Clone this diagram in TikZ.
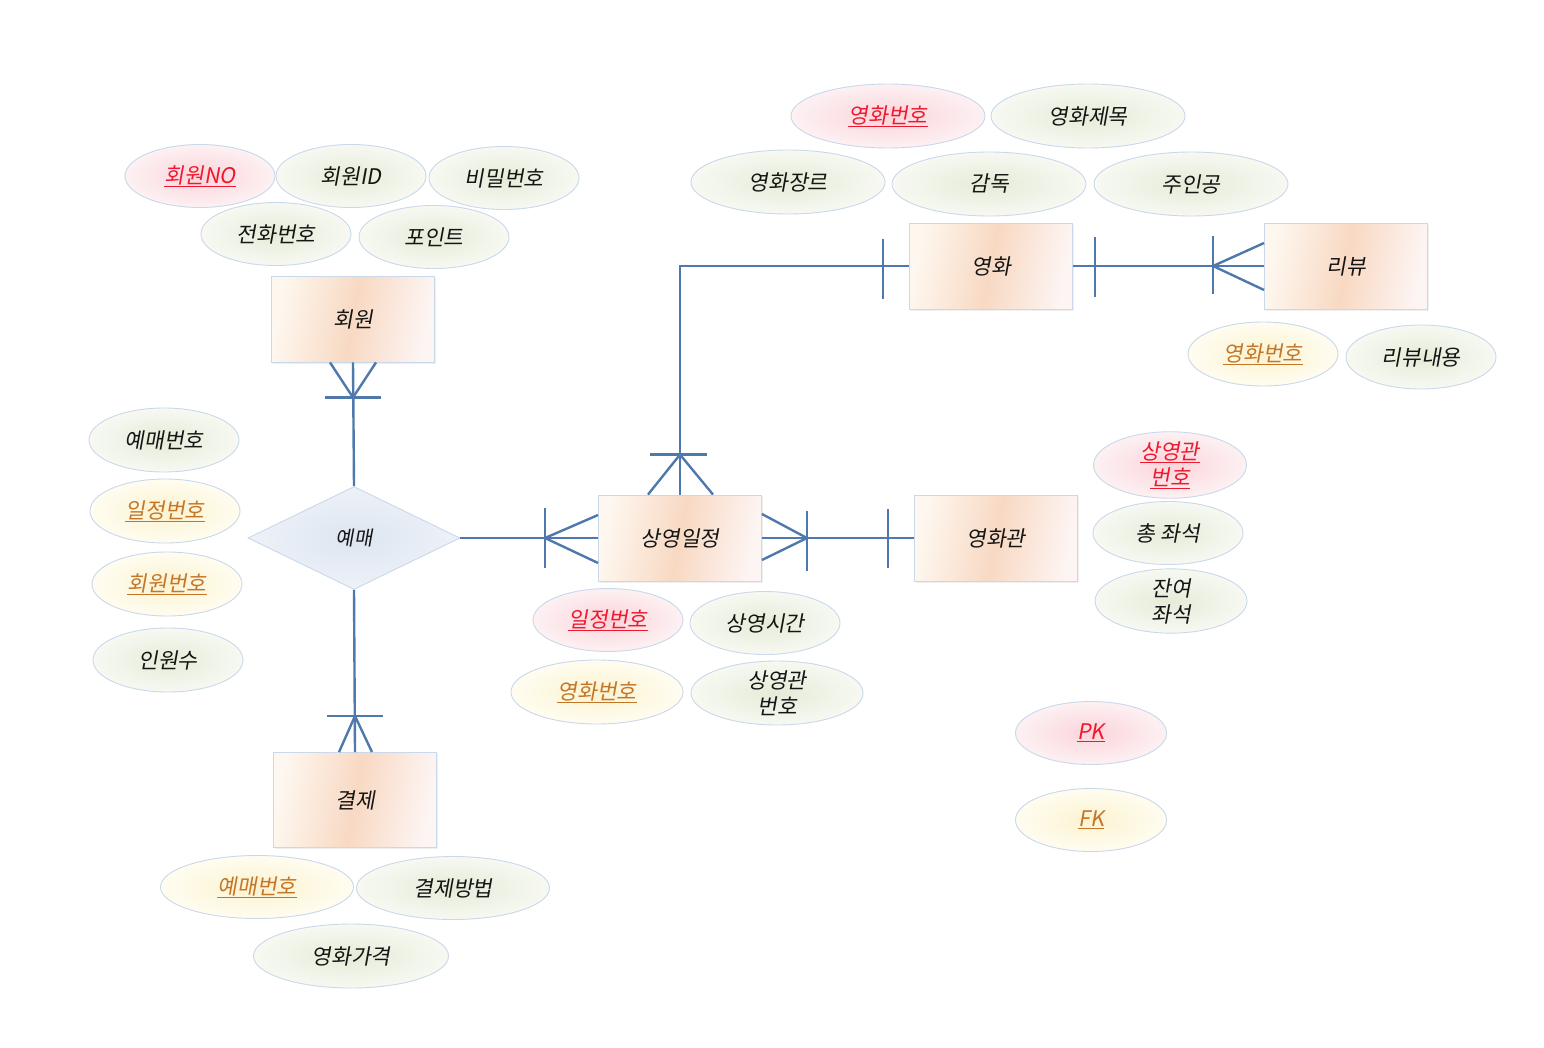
\documentclass[tikz,border=0pt]{standalone}
\usepackage{fontspec}
\setmainfont[FakeSlant=0.18]{Noto Sans CJK KR}
\usetikzlibrary{shapes.geometric,calc,shadows}
\definecolor{lineblue}{HTML}{4F78AC}
\definecolor{bord}{HTML}{C9D8EA}
\definecolor{attrIn}{HTML}{E5EBD8}
\definecolor{attrOut}{HTML}{F7F9F2}
\definecolor{pkIn}{HTML}{FAD4DA}
\definecolor{pkOut}{HTML}{FDF1F3}
\definecolor{fkIn}{HTML}{FBF2CF}
\definecolor{fkOut}{HTML}{FFFDF1}
\definecolor{peach}{HTML}{F8D9C3}
\definecolor{peachL}{HTML}{FEF7EF}
\definecolor{peachR}{HTML}{FDF5F4}
\definecolor{relIn}{HTML}{DCE5F0}
\definecolor{relOut}{HTML}{EEF2F8}
\definecolor{pkred}{HTML}{F0182E}
\definecolor{fkbrown}{HTML}{C47628}
\definecolor{txt}{HTML}{151515}
\newcommand{\pkt}[1]{\textcolor{pkred}{\underline{#1}}}
\newcommand{\fkt}[1]{\textcolor{fkbrown}{\underline{#1}}}
\begin{document}
\begin{tikzpicture}[x=1pt,y=-1pt,
  font=\fontsize{21.5}{26}\selectfont, text=txt,
  conn/.style={draw=lineblue, line width=2.4pt},
  entity/.style={rectangle, draw=bord, line width=0.9pt,
    minimum width=163pt, minimum height=86pt, inner sep=0pt,
    left color=peachL, right color=peachR, middle color=peach, shading angle=80,
    drop shadow={opacity=0.12, shadow xshift=1.5pt, shadow yshift=-1.5pt}},
  attrbase/.style={ellipse, draw=bord, line width=0.9pt, inner sep=0pt,
    minimum width=150pt, minimum height=63pt, align=center},
  attr/.style={attrbase, inner color=attrIn, outer color=attrOut},
  pkattr/.style={attrbase, inner color=pkIn, outer color=pkOut},
  fkattr/.style={attrbase, inner color=fkIn, outer color=fkOut},
  rel/.style={diamond, draw=bord, line width=0.9pt, inner sep=0pt,
    minimum width=212pt, minimum height=103pt, inner color=relIn, outer color=relOut,
    font=\fontsize{20}{24}\selectfont}
]
\useasboundingbox[fill=white] (0,0) rectangle (1544,1047);

% entities
\node[entity] (hoe) at (353,319) {회원};
\node[entity] (movie) at (991,266) {영화};
\node[entity] (review) at (1346,266) {리뷰};
\node[entity] (sched) at (680,538) {상영일정};
\node[entity] (theater) at (996,538) {영화관};
\node[entity, minimum height=95pt] (pay) at (355,800) {결제};
\node[rel] (yemae) at (354,538) {예매};

% connectors
\draw[conn] (hoe.south) -- (yemae.north);
\draw[conn] (yemae.south) -- (pay.north);
\draw[conn] (yemae.east) -- (sched.west);
\draw[conn] (sched.north) |- (movie.west);
\draw[conn] (movie.east) -- (review.west);
\draw[conn] (sched.east) -- (theater.west);

% crow's feet and bars
\draw[conn] ($(hoe.south)+(-23,0)$) -- ($(hoe.south)+(0,35)$) -- ($(hoe.south)+(23,0)$);
\draw[conn] ($(hoe.south)+(-28,35)$) -- ($(hoe.south)+(28,35)$);

\draw[conn] ($(pay.north)+(-16,0)$) -- ($(pay.north)+(0,-36)$) -- ($(pay.north)+(17,0)$);
\draw[conn] ($(pay.north)+(-28,-36)$) -- ($(pay.north)+(28,-36)$);

\draw[conn] ($(sched.north)+(-32,0)$) -- ($(sched.north)+(0,-40)$) -- ($(sched.north)+(33,0)$);
\draw[conn] ($(sched.north)+(-30,-40)$) -- ($(sched.north)+(27,-40)$);

\draw[conn] ($(sched.west)+(0,-23)$) -- ($(sched.west)+(-53,0)$) -- ($(sched.west)+(0,25)$);
\draw[conn] ($(sched.west)+(-53,-30)$) -- ($(sched.west)+(-53,30)$);

\draw[conn] ($(sched.east)+(0,-24)$) -- ($(sched.east)+(45,0)$) -- ($(sched.east)+(0,22)$);
\draw[conn] ($(sched.east)+(45,-27)$) -- ($(sched.east)+(45,33)$);

\draw[conn] ($(theater.west)+(-26,-29)$) -- ($(theater.west)+(-26,30)$);
\draw[conn] ($(movie.west)+(-26,-27)$) -- ($(movie.west)+(-26,33)$);
\draw[conn] ($(movie.east)+(22,-29)$) -- ($(movie.east)+(22,31)$);

\draw[conn] ($(review.west)+(0,-23)$) -- ($(review.west)+(-51,0)$) -- ($(review.west)+(0,24)$);
\draw[conn] ($(review.west)+(-51,-30)$) -- ($(review.west)+(-51,28)$);

% 회원 attributes
\node[pkattr] (a1) at (200,176) {\pkt{회원NO}};
\node[attr] (a2) at (351,176) {회원ID};
\node[attr] (a3) at (504,178) {비밀번호};
\node[attr] (a4) at (276,234) {전화번호};
\node[attr] (a5) at (434,237) {포인트};

% 영화 attributes
\node[pkattr, minimum width=194pt, minimum height=64pt] (m1) at (888,116) {\pkt{영화번호}};
\node[attr, minimum width=194pt, minimum height=64pt] (m2) at (1088,116) {영화제목};
\node[attr, minimum width=194pt, minimum height=64pt] (m3) at (788,182) {영화장르};
\node[attr, minimum width=194pt, minimum height=64pt] (m4) at (989,184) {감독};
\node[attr, minimum width=194pt, minimum height=64pt] (m5) at (1191,184) {주인공};

% 리뷰 attributes
\node[fkattr, minimum height=64pt] (r1) at (1263,354) {\fkt{영화번호}};
\node[attr, minimum height=64pt] (r2) at (1421,357) {리뷰내용};

% 영화관 attributes
\node[pkattr, minimum width=153pt, minimum height=64pt] (t1) at (1170,465) {\pkt{상영관}\\\pkt{번호}};
\node[attr] (t2) at (1168,533) {총 좌석};
\node[attr, minimum width=152pt] (t3) at (1171,601) {잔여\\좌석};

% 상영일정 attributes
\node[pkattr] (s1) at (608,620) {\pkt{일정번호}};
\node[attr] (s2) at (765,623) {상영시간};
\node[fkattr, minimum width=172pt, minimum height=64pt] (s3) at (597,692) {\fkt{영화번호}};
\node[attr, minimum width=172pt, minimum height=64pt] (s4) at (777,693) {상영관\\번호};

% 예매 attributes
\node[attr, minimum height=64pt] (y1) at (164,440) {예매번호};
\node[fkattr, minimum height=64pt] (y2) at (165,511) {\fkt{일정번호}};
\node[fkattr, minimum height=64pt] (y3) at (167,584) {\fkt{회원번호}};
\node[attr, minimum height=64pt] (y4) at (168,660) {인원수};

% 결제 attributes
\node[fkattr, minimum width=193pt] (p1) at (257,887) {\fkt{예매번호}};
\node[attr, minimum width=193pt] (p2) at (453,888) {결제방법};
\node[attr, minimum width=195pt, minimum height=64pt] (p3) at (351,956) {영화가격};

% legend
\node[pkattr, minimum width=151pt] (lpk) at (1091,733) {\pkt{PK}};
\node[fkattr, minimum width=151pt] (lfk) at (1091,820) {\fkt{FK}};
\end{tikzpicture}
\end{document}
